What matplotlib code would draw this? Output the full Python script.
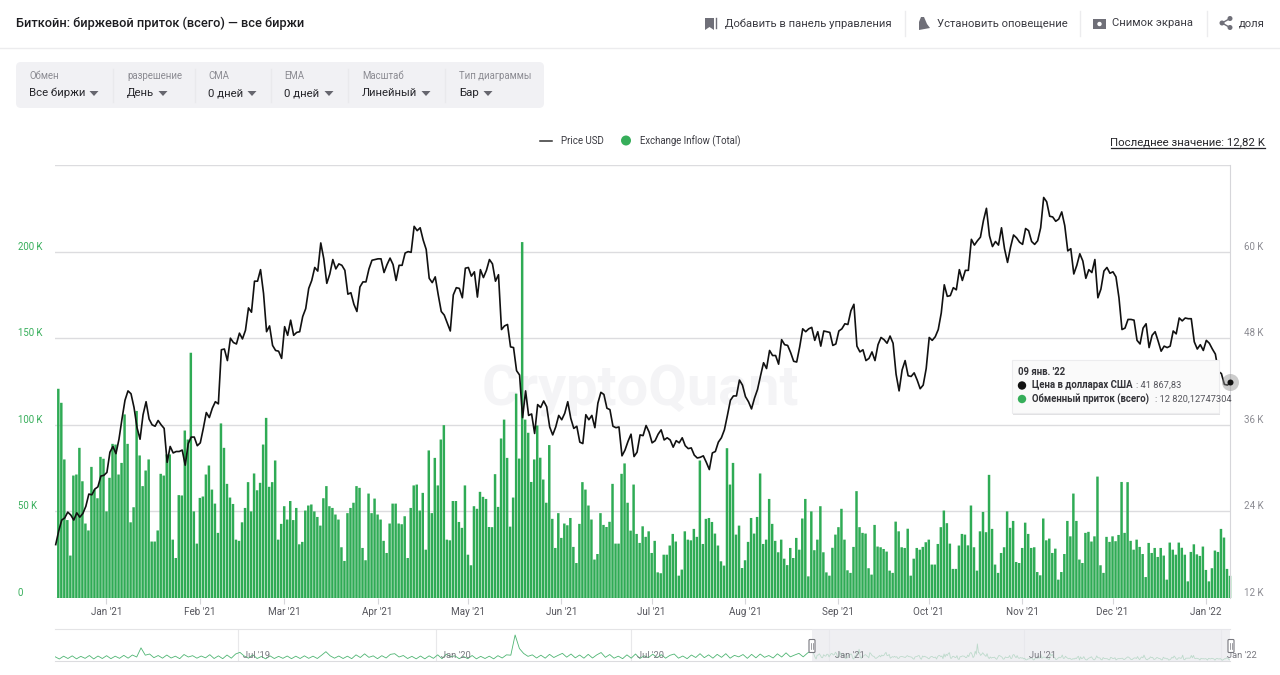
import numpy as np
import pandas as pd
from matplotlib import pyplot as plt
from matplotlib.patches import Circle, FancyBboxPatch, Polygon, Rectangle
import matplotlib.dates as mdates

W, H = 1280, 675
GREEN = "#36ae5a"
GREY = "#8b8b92"
DARK = "#26262b"

# Exchange inflow, thousands of BTC, one bar a day from 2020-12-16
inflow = [
	120.8, 112.7, 80, 45, 24.5, 70.7, 71.3, 86.7, 67.4, 43,
	39, 75.7, 62.6, 57.6, 81.5, 80.4, 50, 69.4, 89, 88.6,
	71.3, 78, 106, 89, 43.7, 52.4, 108, 82.3, 64.6, 73.6,
	80, 32.6, 32.6, 39, 71.7, 70.7, 82.9, 82.9, 33.7, 23.1,
	59.4, 59.2, 96.7, 91.5, 141.6, 50, 31.4, 57.8, 58.6, 71.3,
	76.5, 62.6, 54.5, 37.6, 100.8, 86.7, 65.9, 58, 54.3, 33.7,
	33, 43.7, 52, 66.9, 50, 71.9, 62.2, 66.5, 88.6, 104,
	64.2, 66.9, 79.4, 33.7, 42.8, 53, 45.3, 56, 45, 52,
	31, 32.4, 50.5, 53.4, 54, 50, 46.8, 41.8, 57.6, 64.6,
	53, 52, 48.2, 45.3,
	29.3, 21.4, 49, 52, 55, 64.6, 63.6, 28.9, 21.8, 60.3,
	49, 57.4, 48.2, 45.3, 33, 26, 43, 54.5, 54.5, 43,
	42.6, 47.2, 23.1, 52, 65, 65.5, 50.5, 60.7, 27.9, 85.2,
	49, 80.9, 65, 91.5, 99.8, 33.7, 33.3, 56, 56, 43.9,
	40.5, 65, 25, 18.9, 53, 51.5, 61.3, 58.4, 57.2, 41,
	40.9, 71.5, 52.6, 92.1, 103, 80.9, 41.2, 58, 118, 80.5,
	205.5, 103, 95.4, 67, 80, 99.6, 81, 68.4, 55, 88.3,
	45.7, 28.9, 49, 34.7, 43, 42, 46.2, 29.5, 20.2, 42.8,
	66.9, 62.6, 53.4, 45.3, 22.2, 25.4, 49, 42.2, 41, 44,
	65.9, 31.4, 31.4, 71.7, 77.7, 55, 38.9, 65.5, 37, 31.8,
	41.4, 35.3, 38.5, 26, 33, 14.8, 14.3, 25, 25, 30.3,
	37, 32.6, 12.9, 16.4, 38.5, 33.7, 33.3, 39.9, 35.3, 79.4,
	31.2, 45.7, 46.2, 43.9, 37.2, 30.3, 21.2, 18.7, 86.5, 65.5,
	78, 36.6, 41.8, 17.3, 21.8, 32.4, 46.2, 37.2, 46.8, 71.9,
	31.2, 33.7, 57.2, 42.8, 33, 26.4, 33.7, 22.7, 19, 28.9,
	23.1, 34.7, 27.9, 45.9, 57.2, 12.5, 50, 27.6, 33.7, 53,
	26.4, 14.8, 12.9, 29, 36.6, 40.9, 51.5, 33.7, 16, 14.5,
	29.5, 61.7, 40.9, 37.6, 37.2, 17.2, 13.5, 42.2, 29.7, 29.3,
	28.3, 26.8, 15.8, 14.5, 44.1, 38.5, 29.3, 28.9, 40, 12.9,
	22.7, 28.9, 27.9, 29.5, 32.2, 33.7, 19.3, 19.3, 31.2,
	40.9, 50.5, 43.2, 31.4, 16.8, 16.8, 30.3, 37, 36.6, 30.4,
	53.4, 29.3, 15.8, 38.5, 49.7, 38, 71.1, 39.9, 19.3, 14.5,
	26, 29.3, 50, 40.5, 44.5, 20.8, 20.2, 28.9, 43.5, 37,
	28.9, 29.3, 15, 13.1, 45.9, 33.3, 34.3, 26, 28.5, 10.6,
	15, 25.4, 44.5, 35.6, 60.3, 44.5, 22.2, 20.2, 37.6, 38.2,
	32.6, 35.6, 70.1, 18.9, 14.5, 35.3, 32.4, 35.6, 32.8, 36.4,
	67, 37.6, 66.9, 33, 27.9, 33.7, 29.5, 25.4, 12.1, 31.8,
	26, 28.9, 23.7, 28.9, 24.5, 10.6, 32, 27.9, 25, 32,
	29, 25, 9.6, 26.6, 31, 25.2, 24.3, 29.7, 16.2, 9.6,
	17.2, 27.4, 26.6, 39.9, 34.9, 16.8, 12.82,
]

# Price, thousands of USD, one point a day from 2020-12-15
price = [
	19.4, 21.3, 22.8, 23.1, 23.9, 23.5, 22.8, 23.8, 23.2, 23.7, 24.7, 26.4, 26.3, 27.1, 27.4, 28.9, 29.0,
	29.4, 32.2, 33.0, 32.0, 34.0, 36.8, 39.4, 40.7, 40.3, 38.4, 35.6, 34.0, 37.4, 39.2, 36.8, 36.0,
	35.8, 36.6, 36.0, 35.5, 30.8, 33.0, 32.1, 32.3, 32.3, 32.5, 30.4, 33.4, 34.3, 34.3, 33.1,
	33.5, 35.5, 37.7, 37.0, 38.3, 39.2, 38.9, 46.4, 46.5, 44.9, 48.0, 47.4, 47.2, 48.7,
	47.9, 49.1, 52.2, 51.6, 55.9, 55.9, 57.5, 54.2, 48.9, 49.7, 47.0, 46.3, 46.2, 45.2,
	49.6, 48.4, 50.5, 48.4, 48.8, 48.9, 51.0, 52.1, 54.9, 56.0, 57.8, 57.3, 61.2, 59.0, 55.6,
	56.9, 58.9, 57.6, 58.3, 58.1, 57.4, 54.1, 54.3, 52.7, 51.7, 55.1, 55.8, 55.8, 57.6, 58.8, 58.9,
	59.0, 59.0, 57.1, 58.2, 59.1, 58.2, 56.0, 58.1, 58.1, 59.8, 60.0, 59.9, 63.5, 62.9, 63.3,
	61.6, 60.3, 56.3, 55.7, 56.5, 54.0, 51.7, 51.2, 50.1, 49.0, 54.0, 55.0, 54.9, 53.6, 57.7,
	57.8, 56.6, 57.2, 53.7, 57.5, 56.4, 57.4, 58.9, 58.3, 55.9, 56.8, 49.2, 49.7, 49.9, 46.8,
	46.7, 43.5, 42.9, 37.0, 40.7, 37.3, 37.5, 34.8, 38.8, 38.4, 39.3, 38.5, 35.7, 34.6, 35.7, 37.3,
	36.7, 37.6, 39.2, 36.9, 35.5, 35.8, 33.6, 33.4, 37.4, 36.7, 37.3, 35.6, 39.0, 40.5, 40.2,
	38.3, 38.1, 35.8, 35.6, 35.7, 31.7, 32.5, 33.7, 34.7, 31.6, 32.2, 34.6, 34.5, 35.9, 35.0,
	33.5, 33.8, 34.7, 35.3, 33.9, 34.2, 33.9, 32.9, 33.8, 33.5, 34.2, 33.1, 32.7, 32.8, 31.8,
	31.4, 31.5, 31.7, 30.8, 29.8, 32.1, 32.3, 33.6, 34.2, 35.3, 37.3, 39.4, 40.0, 40.0, 42.2, 41.5,
	39.9, 39.2, 38.2, 39.7, 40.9, 42.8, 44.6, 43.8, 46.3, 45.6, 45.6, 44.4, 47.8, 47.1, 47.0,
	46.0, 44.8, 44.7, 46.8, 49.3, 48.9, 49.3, 49.5, 47.7, 48.9, 46.9, 49.0, 48.9, 48.8, 47.0, 47.2,
	49.0, 49.3, 50.0, 49.9, 51.8, 52.7, 46.9, 46.1, 46.4, 44.9, 45.2, 46.1, 44.9, 47.1, 48.1,
	47.8, 47.3, 48.3, 47.3, 43.0, 40.7, 43.6, 44.9, 42.8, 42.7, 43.2, 42.2, 41.0, 41.5, 43.8,
	48.1, 47.7, 48.2, 49.2, 51.5, 55.4, 53.8, 53.9, 55.0, 54.7, 57.5, 56.0, 57.4, 57.4, 61.7,
	60.9, 61.5, 62.0, 64.3, 66.0, 62.2, 60.7, 61.4, 60.9, 63.3, 60.4, 58.5, 60.6, 62.3, 61.9, 61.3,
	61.0, 63.2, 62.9, 61.4, 61.0, 61.5, 63.3, 67.5, 66.9, 64.9, 64.8, 64.2, 64.5, 65.5, 63.6,
	60.1, 60.4, 56.9, 58.1, 59.7, 58.7, 56.3, 57.5, 57.1, 58.9, 53.6, 54.8, 57.3, 57.8, 57.0,
	57.2, 56.5, 53.6, 49.2, 49.4, 50.6, 50.6, 50.5, 47.7, 47.2, 49.4, 50.0, 46.7, 48.4, 48.9,
	47.6, 46.2, 46.9, 46.7, 46.9, 49.0, 48.6, 50.8, 50.4, 50.8, 50.7, 50.7, 47.5, 46.5, 47.1, 46.3,
	47.7, 47.3, 46.5, 45.8, 43.4, 43.1, 41.6, 41.5, 41.87,
]

# Navigator strip before the selected window, one reading every 4 days from 2019-01-12
early_inflow = [
	52, 24, 58, 30, 62, 26, 56, 32, 66, 25, 60, 30, 64, 28, 58, 32, 68, 34, 72, 48,
	158, 70, 84, 40, 66, 34, 72, 36, 58, 28, 78, 48, 64, 34, 60, 38, 76, 30, 62, 28,
	72, 34, 84, 104, 60, 34, 74, 30, 54, 26, 62, 30, 56, 32, 60, 28, 58, 30, 62, 32,
	58, 30, 70, 112, 62, 34, 60, 30, 58, 28, 74, 42, 86, 44, 62, 28, 64, 36, 80, 88,
	48, 66, 30, 56, 26, 60, 26, 62, 32, 74, 28, 82, 52, 62, 28, 54, 28, 66, 26, 56,
	30, 58, 26, 64, 36, 74, 70, 313, 150, 90, 56, 74, 36, 70, 34, 80, 42, 68, 92, 46,
	84, 38, 72, 34, 80, 36, 74, 102, 44, 78, 34, 58, 28, 74, 34, 84, 30, 62, 40, 82,
	40, 76, 34, 68, 84, 34, 60, 28, 72, 42, 88, 40, 74, 34, 80, 44, 88, 34, 68, 50,
	78, 32, 80, 38, 84, 44, 66, 36, 86, 48, 98, 50, 72, 92, 50, 96,
]

left_ticks = [0, 50, 100, 150, 200, 250]
left_labels = ["0", "50 K", "100 K", "150 K", "200 K", ""]
right_ticks = [12, 24, 36, 48, 60, 72]
right_labels = ["12 K", "24 K", "36 K", "48 K", "60 K", ""]

nav_ticks = ["2019-07-01", "2020-01-01", "2020-07-01", "2021-01-01", "2021-07-01", "2022-01-01"]
nav_labels = ["Jul '19", "Jan '20", "Jul '20", "Jan '21", "Jul '21", "Jan '22"]

filter_titles = ["Обмен", "разрешение", "СМА", "EMA", "Масштаб", "Тип диаграммы"]
filter_values = ["Все биржи", "День", "0 дней", "0 дней", "Линейный", "Бар"]
filter_x = [29, 127, 208, 284, 362, 459]
caret_x = [94, 163, 252, 329, 426, 488]
filter_dividers = [113, 195, 271, 348, 445]

header_items = ["Добавить в панель управления", "Установить оповещение", "Снимок экрана", "доля"]
header_x = [725, 937, 1112, 1239]
header_dividers = [905, 1080, 1207]

plt.rcParams["font.family"] = ["Roboto", "DejaVu Sans"]


def px_axes(fig, left, top, right, bottom):
	return fig.add_axes([left / W, 1 - bottom / H, (right - left) / W, (bottom - top) / H])


def pt(pixels):
	return pixels * 0.72


fig = plt.figure(figsize=(W / 100, H / 100), dpi=100)

# page background, header and filters, all in pixel coordinates
back = fig.add_axes([0, 0, 1, 1], zorder=0)
back.set_xlim(0, W)
back.set_ylim(H, 0)
back.axis("off")

back.text(16, 23, "Биткойн: биржевой приток (всего) — все биржи", fontsize=pt(12.8), fontweight="medium",
	color="#1c1c20", va="center")
back.plot([0, W], [48, 48], color="#ececee", lw=1)

for label, x in zip(header_items, header_x):
	back.text(x, 23.5, label, fontsize=pt(11.2), color="#3b3b42", va="center")
for x in header_dividers:
	back.plot([x, x], [11, 36], color="#ececee", lw=1)

icon = "#6f6f78"
back.add_patch(Polygon([(705, 18), (714, 18), (714, 30), (709.5, 27), (705, 30)], color=icon, lw=0))
back.plot([716, 716], [18, 28], color=icon, lw=1)
back.add_patch(Polygon([(921, 17), (924, 17), (927, 24), (930, 28), (919, 30), (919, 22)], color=icon, lw=0))
back.add_patch(Rectangle((1093, 19), 13, 10, color=icon, lw=0))
back.add_patch(Circle((1099.5, 24), 2.2, color="white", lw=0))
back.plot([1222, 1230], [23, 18.5], color=icon, lw=1)
back.plot([1222, 1230], [23, 27.5], color=icon, lw=1)
for cx, cy in [(1222, 23), (1230, 18.5), (1230, 27.5)]:
	back.add_patch(Circle((cx, cy), 2.5, color=icon, lw=0))

back.add_patch(FancyBboxPatch((20, 66), 520, 38, boxstyle="round,pad=4,rounding_size=5", color="#f1f1f4", lw=0))
for x in filter_dividers:
	back.plot([x, x], [69, 102], color="#e9e9ec", lw=1)
for title, value, x, cx in zip(filter_titles, filter_values, filter_x, caret_x):
	back.text(x, 76, title, fontsize=pt(9.7), color=GREY, va="center")
	back.text(x, 93, value, fontsize=pt(11.4), color=DARK, va="center")
	back.add_patch(Polygon([(cx - 4.5, 91), (cx + 4.5, 91), (cx, 96)], color="#66666e", lw=0))

# legend row
back.plot([540, 552], [141, 141], color="#333333", lw=1.1)
back.text(561, 141, "Price USD", fontsize=pt(9.8), color="#3b3b42", va="center")
back.add_patch(Circle((626, 140.5), 5, color=GREEN, lw=0))
back.text(640, 141, "Exchange Inflow (Total)", fontsize=pt(9.6), color="#3b3b42", va="center")
back.text(1265, 142, "Последнее значение: 12,82 K", fontsize=pt(11.4), color="#26262b", va="center", ha="right")
back.plot([1111, 1265], [148, 148], color="#26262b", lw=0.9)

back.text(640, 391, "CryptoQuant", fontsize=pt(56), fontweight="bold", color="#f4f4f6", ha="center", va="center")

# main chart
dates = pd.date_range("2020-12-16", periods=len(inflow), freq="D")
day0 = mdates.date2num(dates[0])
x_days = mdates.date2num(dates)
# the price line sits a little right of its midnight, so it starts 2.6 px left of the first bar
price_days = mdates.date2num(pd.date_range("2020-12-15", periods=len(price), freq="D")) + 0.14

ax = px_axes(fig, 55, 165, 1230, 598)
ax.set_zorder(1)
ax.patch.set_alpha(0)
bars = ax.bar(x_days, inflow, width=0.82, color="#2fab55", lw=0, clip_on=False, zorder=2)
for bar in bars:
	bar.set_snap(False)
ax.set_xlim(day0 - 3.3 / 3.012, day0 + 389)
ax.set_ylim(0, 250)
ax.set_yticks(left_ticks, left_labels)
ax.grid(axis="y", color="#dcdcdf", lw=1)
ax.set_axisbelow(True)
ax.xaxis.set_major_locator(mdates.MonthLocator())
ax.xaxis.set_major_formatter(mdates.DateFormatter("%b '%y"))
ax.tick_params(axis="x", length=4, color="#d6d6da", labelsize=pt(9.9), labelcolor="#55555c", pad=2.5)
ax.tick_params(axis="y", length=0, labelsize=pt(9.6), labelcolor=GREEN, pad=pt(37))
for label in ax.get_yticklabels():
	label.set_ha("left")
	label.set_va("bottom")
for side in ["top", "left", "bottom"]:
	ax.spines[side].set_visible(False)
ax.spines["right"].set_color("#d6d6da")

ax2 = ax.twinx()
ax2.set_zorder(2)
ax2.patch.set_alpha(0)
ax2.plot(price_days, price, color="#111111", lw=1.2, solid_joinstyle="round", clip_on=False)
ax2.set_ylim(12, 72)
ax2.set_yticks(right_ticks, right_labels)
ax2.tick_params(axis="y", length=0, labelsize=pt(9.8), labelcolor=GREY, pad=pt(14))
for label in ax2.get_yticklabels():
	label.set_ha("left")
	label.set_va("bottom")
for spine in ax2.spines.values():
	spine.set_visible(False)
ax2.scatter(price_days[-1], price[-1], s=pt(17) ** 2, color="#8f8f8f", alpha=0.45, lw=0, clip_on=False, zorder=4)
ax2.scatter(price_days[-1], price[-1], s=pt(6) ** 2, color="#111111", lw=0, clip_on=False, zorder=5)

# navigator strip
early_dates = pd.date_range("2019-01-12", periods=len(early_inflow), freq="4D")
nav_x = np.concatenate([mdates.date2num(early_dates), x_days])
nav_y = early_inflow + inflow

nav = px_axes(fig, 55, 629, 1230, 661)
nav.set_zorder(3)
nav.patch.set_alpha(0)
nav.set_xlim(nav_x[0], nav_x[-1])
nav.set_ylim(0, 385)
for tick in nav_ticks:
	nav.axvline(mdates.date2num(pd.Timestamp(tick)), color="#e8e8ea", lw=0.8, zorder=1)
nav.plot(nav_x, nav_y, color="#4fb573", lw=0.6, zorder=2)
for tick, label in zip(nav_ticks, nav_labels):
	nav.annotate(label, (mdates.date2num(pd.Timestamp(tick)), 0), xytext=(4, 2), textcoords="offset points",
		fontsize=pt(9.4), color="#77777e", annotation_clip=False, zorder=4)
nav.axvspan(x_days[0], nav_x[-1], color="#e9e9ee", alpha=0.72, lw=0, zorder=3)
nav.set_xticks([])
nav.set_yticks([])
for side in ["left", "right"]:
	nav.spines[side].set_visible(False)
nav.spines["top"].set_color("#e4e4e6")
nav.spines["bottom"].set_color("#dcdcdf")

# tooltip and slider handles on top
front = fig.add_axes([0, 0, 1, 1], zorder=6)
front.set_xlim(0, W)
front.set_ylim(H, 0)
front.axis("off")
front.add_patch(Rectangle((1013, 362), 207, 53, color="#c4c4c8", alpha=0.5, lw=0))
front.add_patch(Rectangle((1012, 360), 207, 53, facecolor="#fafafa", edgecolor="#ececee", lw=0.8))
front.text(1018, 372, "09 янв. '22", fontsize=pt(9.6), fontweight="bold", color="#333338", va="center")
front.add_patch(Circle((1022, 385.5), 4.2, color="#111111", lw=0))
front.add_patch(Circle((1022, 399), 4.2, color=GREEN, lw=0))
front.text(1032, 385.5, "Цена в долларах США", fontsize=pt(9.6), fontweight="bold", color="#333338", va="center")
front.text(1032, 399, "Обменный приток (всего)", fontsize=pt(9.6), fontweight="bold", color="#333338", va="center")
front.text(1136, 385.5, ": 41 867,83", fontsize=pt(9.3), color="#55555c", va="center")
front.text(1155, 399, ": 12 820,12747304", fontsize=pt(9.3), color="#55555c", va="center")

for x in [812, 1231]:
	front.add_patch(FancyBboxPatch((x - 2.5, 640), 5, 12, boxstyle="round,pad=0.5,rounding_size=1", facecolor="white",
		edgecolor="#77777e", lw=0.8))
	front.plot([x - 0.7, x - 0.7], [643, 649], color="#77777e", lw=0.5)
	front.plot([x + 0.7, x + 0.7], [643, 649], color="#77777e", lw=0.5)

fig.savefig("out.png", dpi=100)
